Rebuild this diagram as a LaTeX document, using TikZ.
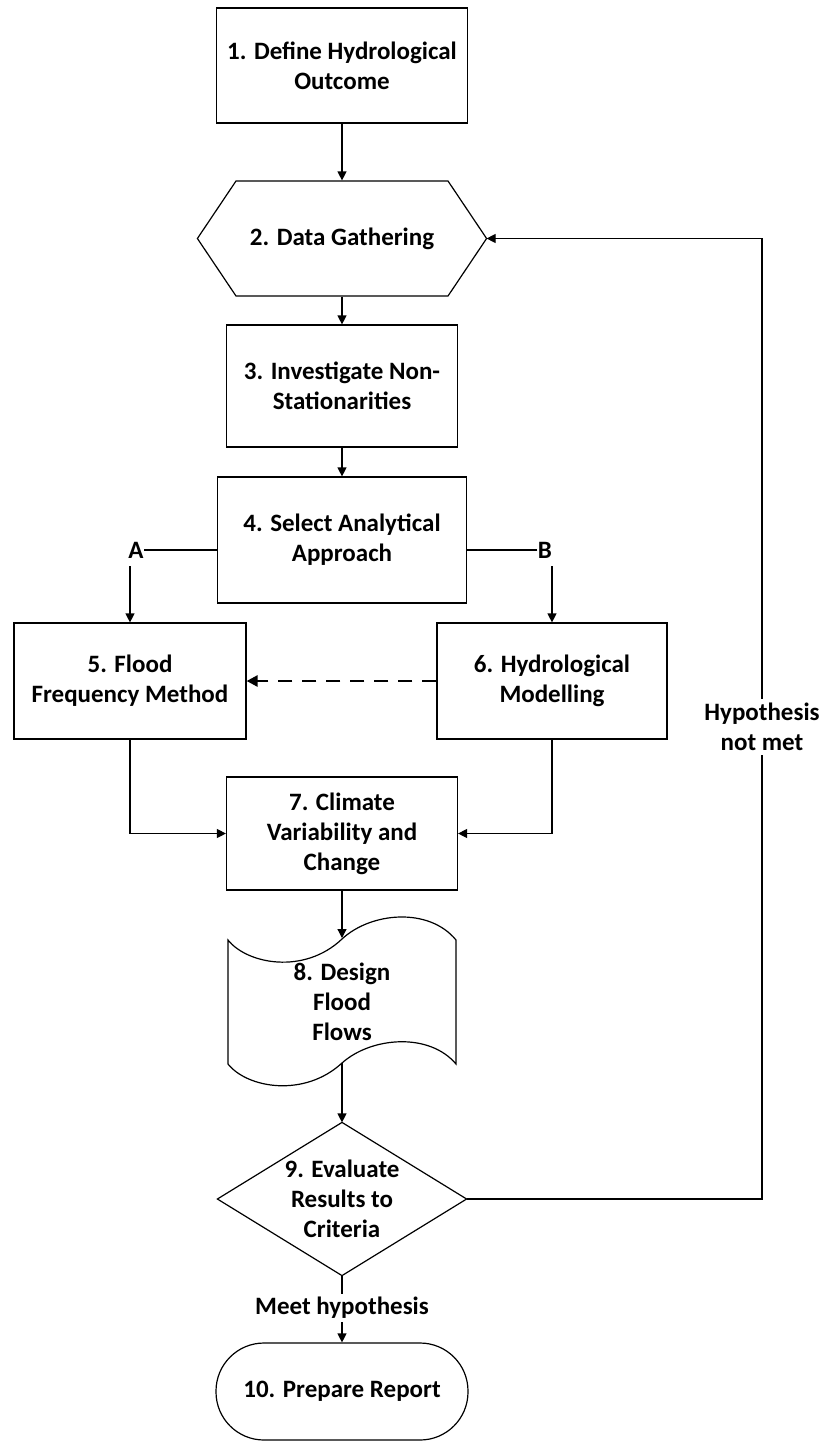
\documentclass[tikz,border=0pt]{standalone}
\usepackage{fontspec}
\setmainfont{Carlito}
\usetikzlibrary{arrows.meta}
\begin{document}
\begin{tikzpicture}[x=1pt,y=-1pt,
  line width=1.2pt,
  every node/.style={font=\bfseries\fontsize{25}{30}\selectfont, align=center, inner sep=0pt},
  stepbox/.style={draw, rectangle, minimum width=#1},
  flow/.style={-{Triangle[length=9pt,width=9pt]}},
  ghost/.style={rectangle, minimum width=#1},
  tag/.style={fill=white, inner sep=3pt}
]
\useasboundingbox[fill=white] (0,0) rectangle (825,1443);

% process boxes
\node[stepbox=251pt, minimum height=115pt] (n1) at (342,65.5) {1. Define Hydrological\\Outcome};
\node[ghost=288pt, minimum height=115pt] (n2) at (342,238.5) {2. Data Gathering};
\draw (n2.west) -- (236,181) -- (448,181) -- (n2.east) -- (448,296) -- (236,296) -- cycle;
\node[stepbox=231pt, minimum height=122pt] (n3) at (342,386) {3. Investigate Non-\\Stationarities};
\node[stepbox=249pt, minimum height=126pt] (n4) at (342,540) {4. Select Analytical\\Approach};
\node[stepbox=232pt, minimum height=116pt] (n5) at (130,681) {5. Flood\\Frequency Method};
\node[stepbox=230pt, minimum height=116pt] (n6) at (552,681) {6. Hydrological\\Modelling};
\node[stepbox=231pt, minimum height=113pt] (n7) at (342,833.5) {7. Climate\\Variability and\\Change};

% punched-tape output shape
\node[ghost=228pt, minimum height=126pt] (n8) at (342,1002) {8. Design\\Flood\\Flows};
\draw (228,940) .. controls (247,964) and (304,975) .. (342,939)
      .. controls (371,912) and (429,907) .. (456,940)
      -- (456,1064)
      .. controls (429,1032) and (371,1037) .. (342,1063)
      .. controls (304,1098) and (247,1088) .. (228,1064) -- cycle;
\coordinate (n8top) at (342,938);
\coordinate (n8bot) at (342,1063);

% decision and terminal
\node[ghost=248pt, minimum height=152pt] (n9) at (342,1199) {9. Evaluate\\Results to\\Criteria};
\draw (n9.north) -- (n9.east) -- (n9.south) -- (n9.west) -- cycle;
\node[draw, rectangle, rounded corners=48pt, minimum width=252pt, minimum height=97pt] (n10) at (342,1391.5) {10. Prepare Report};

% main flow
\draw[flow] (n1) -- (n2.north);
\draw[flow] (n2.south) -- (n3);
\draw[flow] (n3) -- (n4);

% branch A / B
\node (la) at (136,550) {A};
\node (lb) at (545,550) {B};
\draw (la.east) -- (la.east -| n4.west);
\draw (lb.west) -- (lb.west -| n4.east);
\coordinate (aA) at (130,566);
\coordinate (aB) at (552,566);
\draw[flow] (aA) -- (n5.north);
\draw[flow] (aB) -- (n6.north);

\draw[-{Triangle[length=11pt,width=11pt]}, dash pattern=on 14pt off 10pt, line width=2.6pt] (n6.west) -- (n5.east);

\draw[flow] (n5.south) |- (n7.west);
\draw[flow] (n6.south) |- (n7.east);

\draw[flow] (n7.south) -- (n8top);
\draw[flow] (n8bot) -- (n9.north);

% outcome of the evaluation
\draw[flow] (n9.south) -- (n10.north);
\node[tag] (meet) at (342,1308) {Meet hypothesis};

\coordinate (fb) at (762,1199);
\draw[flow] (n9.east) -- (fb) |- (n2.east);
\node[tag, inner sep=4pt] (notmet) at (762,727) {Hypothesis\\not met};
\end{tikzpicture}
\end{document}
